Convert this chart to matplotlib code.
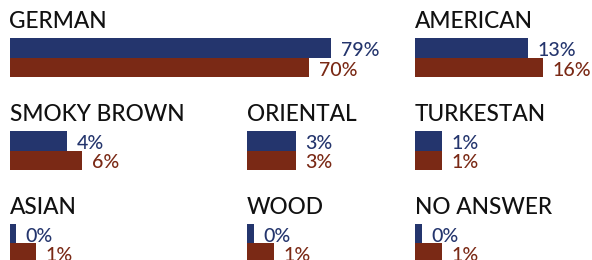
import numpy as np
import matplotlib
matplotlib.use('Agg')
import matplotlib.pyplot as plt

# ---- data ----
categories = ['GERMAN', 'AMERICAN', 'SMOKY BROWN', 'ORIENTAL', 'TURKESTAN',
              'ASIAN', 'WOOD', 'NO ANSWER']
series_blue = [79, 13, 4, 3, 1, 0, 0, 0]
series_brown = [70, 16, 6, 3, 1, 1, 1, 1]
grid_pos = [(0, 0), (0, 2), (1, 0), (1, 1), (1, 2), (2, 0), (2, 1), (2, 2)]

# ---- style / layout ----
W, H, DPI = 592, 260, 100
BLUE = '#24356d'
BROWN = '#7a2915'
TITLE_C = '#111111'
FONT = ['Lato', 'DejaVu Sans']
COL_X = [9.5, 247, 415]
ROW_BAR_TOP = [38.3, 131.2, 224.0]
BAR_H = 19.35
TITLE_GAP = 10.0
PX_PER_UNIT = 25.5
P = 0.58
BASE = -0.1


def forward(x):
    return np.power(np.clip(np.asarray(x, float) - BASE, 0, None), P)


def inverse(y):
    return np.power(np.clip(np.asarray(y, float), 0, None), 1.0 / P) + BASE


fig = plt.figure(figsize=(W / DPI, H / DPI), dpi=DPI)
fig.patch.set_facecolor('white')

for cat, vb, vr, (r, c) in zip(categories, series_blue, series_brown, grid_pos):
    x0 = COL_X[c]
    top = ROW_BAR_TOP[r]
    width_px = W - x0
    ax = fig.add_axes([x0 / W, 1 - (top + 2 * BAR_H) / H, width_px / W, 2 * BAR_H / H])
    ax.set_xscale('function', functions=(forward, inverse))
    ax.set_xlim(BASE, float(inverse(width_px / PX_PER_UNIT)))
    ax.set_ylim(2, 0)
    ax.barh([0.5, 1.5], [vb - BASE, vr - BASE], left=BASE, height=1.0,
            color=[BLUE, BROWN], linewidth=0)
    ax.axis('off')
    for v, yb, col in [(vb, 1.0, BLUE), (vr, 2.0, BROWN)]:
        ax.annotate(f'{v}%', xy=(v, yb), xytext=(9.5, 1.5),
                    textcoords='offset pixels', ha='left', va='baseline',
                    color=col, fontsize=14.0, family=FONT, fontweight='medium',
                    annotation_clip=False)
    fig.text(x0 / W, 1 - (top - TITLE_GAP) / H, cat, ha='left', va='baseline',
             color=TITLE_C, fontsize=16.3, family=FONT, fontweight='medium')

fig.savefig('out.png', dpi=DPI)
